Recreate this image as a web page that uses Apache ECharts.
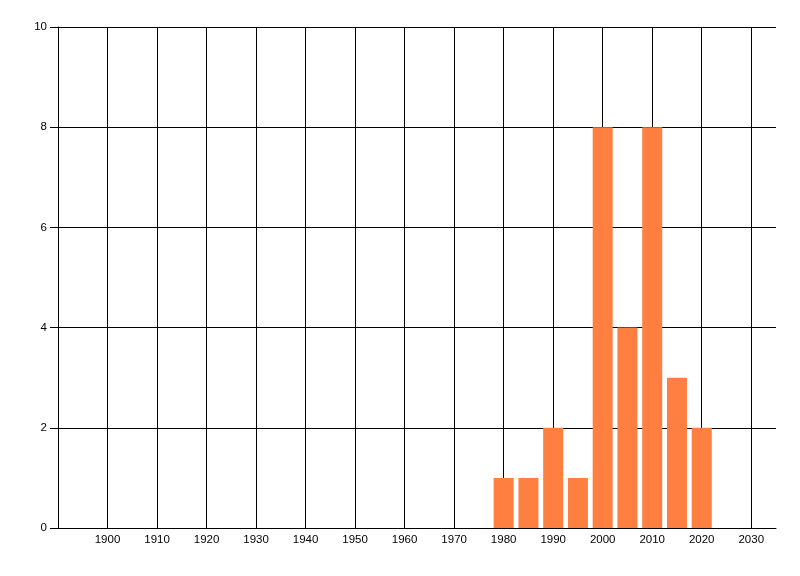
<!DOCTYPE html>
<html><head><meta charset="utf-8">
<script src="https://cdn.jsdelivr.net/npm/echarts@6/dist/echarts.min.js"></script>
<style>html,body{margin:0;padding:0;background:#fff}#c{width:800px;height:576px}</style>
</head><body><div id="c"></div>
<script>
const years = [1980, 1985, 1990, 1995, 2000, 2005, 2010, 2015, 2020];
const counts = [1, 1, 2, 1, 8, 4, 8, 3, 2];

const chart = echarts.init(document.getElementById('c'), null, {renderer: 'canvas'});
const font = {fontFamily: 'Liberation Sans', fontSize: 11.5, color: '#000', formatter: v => String(v)};
chart.setOption({
  animation: false,
  backgroundColor: '#fff',
  grid: {left: 58, right: 24, top: 27, bottom: 48, containLabel: false},
  xAxis: {
    type: 'value', min: 1890, max: 2035, interval: 10,
    axisLine: {show: true, lineStyle: {color: '#000', width: 1}},
    axisTick: {show: false},
    axisLabel: Object.assign({showMinLabel: false, showMaxLabel: false, margin: 6}, font),
    splitLine: {show: true, showMinLine: true, showMaxLine: false, lineStyle: {color: '#000', width: 1}}
  },
  yAxis: {
    type: 'value', min: 0, max: 10, interval: 2,
    axisLine: {show: true, lineStyle: {color: '#000', width: 1}},
    axisTick: {show: true, length: 8, lineStyle: {color: '#000'}},
    axisLabel: Object.assign({margin: 11}, font),
    splitLine: {show: true, lineStyle: {color: '#000', width: 1}}
  },
  series: [{
    type: 'bar',
    data: years.map((y, i) => [y, counts[i]]),
    barWidth: 20,
    itemStyle: {color: '#ff7f40'}
  }]
});
</script></body></html>
